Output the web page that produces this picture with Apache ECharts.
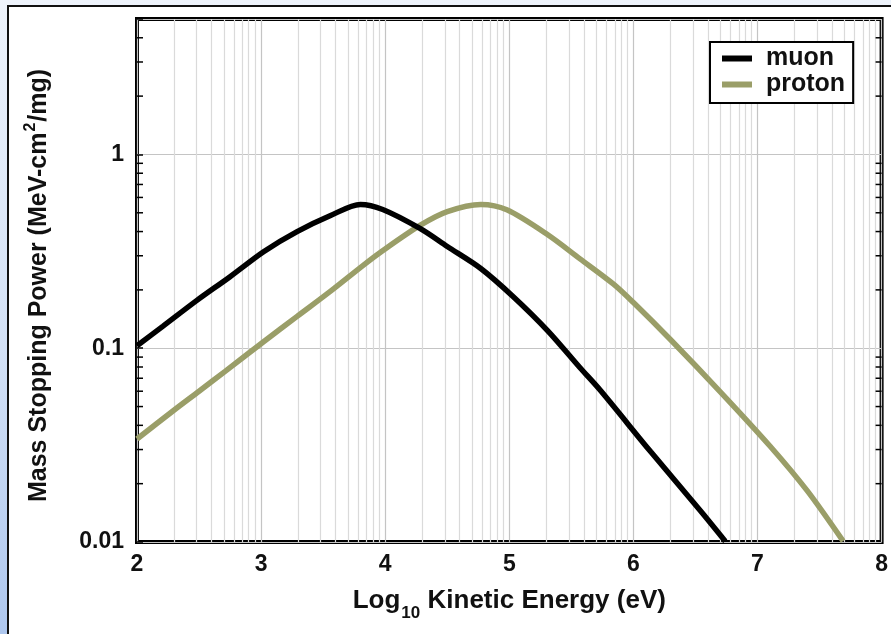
<!DOCTYPE html>
<html><head><meta charset="utf-8">
<script src="https://cdn.jsdelivr.net/npm/echarts@6/dist/echarts.min.js"></script>
<style>
html,body{margin:0;padding:0;width:891px;height:634px;overflow:hidden;}
body{background:linear-gradient(180deg,#eef3fb 0%,#d3e1f6 55%,#aec7ee 100%);position:relative;}
#panel{position:absolute;left:7px;top:5px;width:900px;height:700px;background:#fff;border-left:2px solid #111;border-top:2px solid #111;}
#chart{position:absolute;left:0;top:0;width:891px;height:634px;}
</style></head><body>
<div id="panel"></div><div id="chart"></div>
<script>
// x: log10 of kinetic energy (eV); y: mass stopping power (MeV-cm^2/mg)
const muonX = [2.0, 2.21, 2.48, 2.75, 3.02, 3.29, 3.56, 3.80, 3.98, 4.28, 4.50, 4.77, 5.03, 5.31, 5.57, 5.73, 6.14, 6.54, 6.74];
const muonY = [0.103, 0.130, 0.176, 0.234, 0.315, 0.400, 0.484, 0.552, 0.520, 0.415, 0.335, 0.258, 0.185, 0.123, 0.0793, 0.0610, 0.0292, 0.0145, 0.0101];
const protonX = [2.0, 2.3, 2.5, 2.71, 3.02, 3.29, 3.56, 3.82, 3.96, 4.28, 4.50, 4.77, 4.98, 5.31, 5.57, 5.84, 6.0, 6.30, 6.70, 7.10, 7.40, 7.69];
const protonY = [0.034, 0.048, 0.060, 0.076, 0.108, 0.146, 0.197, 0.267, 0.312, 0.43, 0.507, 0.552, 0.518, 0.385, 0.289, 0.214, 0.172, 0.1106, 0.0596, 0.0313, 0.0184, 0.0101];
const seriesNames = ['muon', 'proton'];
const xTicks = [2, 3, 4, 5, 6, 7, 8];
const yTickLabels = [0.01, 0.1, 1];
const yDecades = [0.01, 0.1, 1];
const minorMultipliers = [2, 3, 4, 5, 6, 7, 8, 9];

const xMin = xTicks[0], xMax = xTicks[xTicks.length - 1];
const yMin = 0.01, yMax = 5;

// minor vertical grid lines at log positions inside each decade
const xMinorLines = [];
for (let d = xMin; d < xMax; d++) {
  minorMultipliers.forEach(k => xMinorLines.push(d + Math.log10(k)));
}
// minor y tick values
const yMinorTicks = [];
yDecades.forEach(d => minorMultipliers.forEach(k => { const v = d * k; if (v < yMax - 1e-9) yMinorTicks.push(v); }));

const FONT = '"Liberation Sans", Arial, Helvetica, sans-serif';
const chart = echarts.init(document.getElementById('chart'), null, {renderer: 'canvas'});
chart.setOption({
  animation: false,
  backgroundColor: 'transparent',
  grid: {left: 137, right: 9, top: 19, bottom: 92, show: true, borderColor: '#000', borderWidth: 4, backgroundColor: 'transparent'},
  legend: {
    data: seriesNames,
    orient: 'vertical',
    left: 710, top: 42,
    padding: [4, 8, 6, 12],
    itemGap: 1,
    itemWidth: 30, itemHeight: 6,
    icon: 'rect',
    borderColor: '#000', borderWidth: 2,
    backgroundColor: '#fff',
    textStyle: {fontFamily: FONT, fontWeight: 'bold', fontSize: 25, color: '#111', padding: [0, 0, 0, 9]}
  },
  xAxis: {
    type: 'value', min: xMin, max: xMax, interval: 1,
    axisLine: {show: false},
    axisTick: {show: false},
    axisLabel: {fontFamily: FONT, fontWeight: 'bold', fontSize: 23, color: '#111', margin: 11},
    splitLine: {show: true, lineStyle: {color: '#c4c4c4', width: 1.2}},
    name: '{a|Log}{s|10}{a| Kinetic Energy (eV)}',
    nameLocation: 'middle', nameGap: 46,
    nameTextStyle: {
      rich: {
        a: {fontFamily: FONT, fontWeight: 'bold', fontSize: 26, color: '#111', lineHeight: 26, verticalAlign: 'top'},
        s: {fontFamily: FONT, fontWeight: 'bold', fontSize: 17, color: '#111', lineHeight: 17, verticalAlign: 'top', padding: [17, 0, 0, 1]}
      }
    }
  },
  yAxis: {
    type: 'log', logBase: 10, min: yMin, max: yMax,
    axisLine: {show: false},
    axisTick: {show: true, inside: true, length: 6, lineStyle: {color: '#000', width: 1.5}},
    axisLabel: {
      fontFamily: FONT, fontWeight: 'bold', fontSize: 23, color: '#111', margin: 13,
      formatter: function (v) {
        for (const t of yTickLabels) { if (Math.abs(v - t) / t < 1e-6) return String(t); }
        return '';
      }
    },
    splitLine: {show: true, lineStyle: {color: '#c4c4c4', width: 1.2}},
    name: '{a|Mass Stopping Power (MeV-cm}{s|2}{a|/mg)}',
    nameLocation: 'middle', nameGap: 85,
    nameTextStyle: {
      padding: [0, 10, 0, 0],
      rich: {
        a: {fontFamily: FONT, fontWeight: 'bold', fontSize: 25, color: '#111', lineHeight: 25, verticalAlign: 'bottom'},
        s: {fontFamily: FONT, fontWeight: 'bold', fontSize: 16, color: '#111', lineHeight: 16, verticalAlign: 'bottom', padding: [0, 1, 13, 1]}
      }
    }
  },
  series: [
    {
      name: 'muon', type: 'line', smooth: 0.3, showSymbol: false, symbol: 'none',
      color: '#000', lineStyle: {color: '#000', width: 5.5}, z: 4,
      data: muonX.map((x, i) => [x, muonY[i]]),
      markLine: {
        silent: true, symbol: ['none', 'none'], label: {show: false}, animation: false,
        lineStyle: {color: '#dadada', width: 1.2, type: 'solid'},
        data: xMinorLines.map(v => ({xAxis: v})), z: 1
      }
    },
    {
      name: 'proton', type: 'line', smooth: 0.3, showSymbol: false, symbol: 'none',
      color: '#9a9e68', lineStyle: {color: '#9a9e68', width: 5.5}, z: 3,
      data: protonX.map((x, i) => [x, protonY[i]])
    },
    {
      name: 'yMinorTicks', type: 'custom', silent: true, z: 5,
      encode: {x: 0, y: 1},
      data: yMinorTicks.map(v => [xMin, v]),
      renderItem: function (params, api) {
        const v = api.value(1);
        const pL = api.coord([xMin, v]);
        const pR = api.coord([xMax, v]);
        return {
          type: 'group', children: [
            {type: 'line', shape: {x1: pL[0], y1: pL[1], x2: pL[0] + 6, y2: pL[1]}, style: {stroke: '#000', lineWidth: 1.5}},
            {type: 'line', shape: {x1: pR[0] - 6, y1: pR[1], x2: pR[0], y2: pR[1]}, style: {stroke: '#000', lineWidth: 1.5}}
          ]
        };
      }
    }
  ]
});
</script>
</body></html>
